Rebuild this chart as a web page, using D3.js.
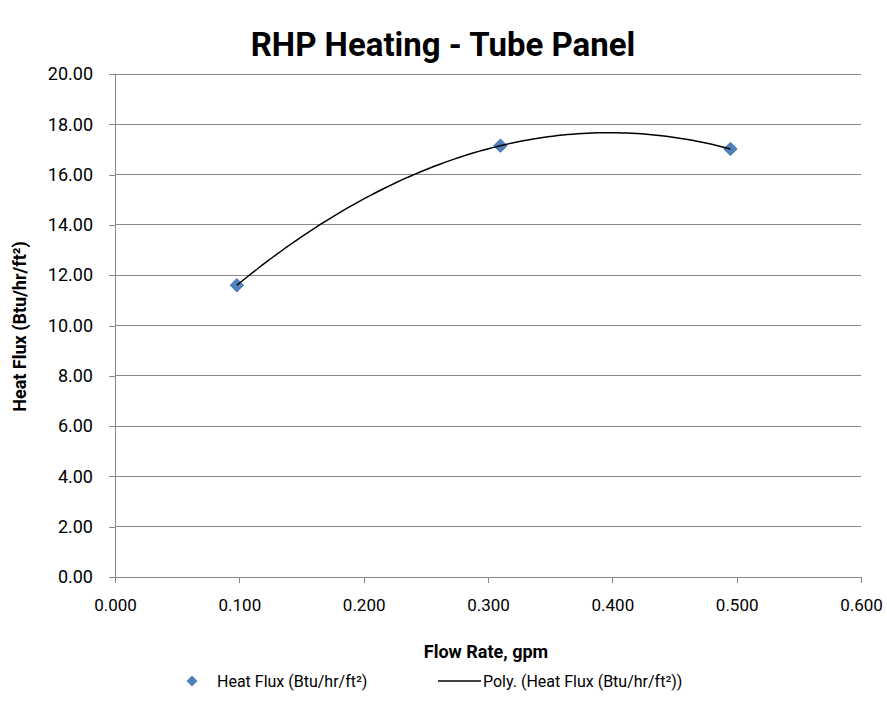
<!DOCTYPE html>
<html><head><meta charset="utf-8">
<script src="https://cdn.jsdelivr.net/npm/d3@7"></script>
<style>body{margin:0;background:#fff;} text{font-family:Roboto,"Liberation Sans",Arial,sans-serif;}</style>
</head><body>
<svg id="c" width="887" height="719"></svg>
<script>
const flowRates = [0.098, 0.310, 0.495];
const heatFlux = [11.60, 17.15, 17.02];
const xTicks = [0, 0.1, 0.2, 0.3, 0.4, 0.5, 0.6];
const yTicks = [0, 2, 4, 6, 8, 10, 12, 14, 16, 18, 20];
const title = "RHP Heating - Tube Panel";
const xTitle = "Flow Rate, gpm";
const yTitle = "Heat Flux (Btu/hr/ft²)";
const legendLabels = ["Heat Flux (Btu/hr/ft²)", "Poly. (Heat Flux (Btu/hr/ft²))"];

const svg = d3.select("#c");
const L = 115, R = 861, T = 74, B = 577;
const x = d3.scaleLinear().domain([0, 0.6]).range([L, R]);
const y = d3.scaleLinear().domain([0, 20]).range([B, T]);
const grid = "#888";
const FONT = "Roboto,'Liberation Sans',Arial,sans-serif";

svg.append("g").selectAll("line").data(yTicks.slice(1)).join("line")
  .attr("x1", L).attr("x2", R).attr("y1", d => y(d)).attr("y2", d => y(d))
  .attr("stroke", grid).attr("stroke-width", 1).attr("shape-rendering", "crispEdges");

const yAx = svg.append("g").attr("transform", `translate(${L},0)`)
  .call(d3.axisLeft(y).tickValues(yTicks).tickFormat(d3.format(".2f")).tickSize(6).tickPadding(16));
const xAx = svg.append("g").attr("transform", `translate(0,${B})`)
  .call(d3.axisBottom(x).tickValues(xTicks).tickFormat(d3.format(".3f")).tickSize(6).tickPadding(16));
[yAx, xAx].forEach(g => {
  g.selectAll("path,line").attr("stroke", grid).attr("shape-rendering", "crispEdges");
  g.selectAll("text").attr("font-size", 17).attr("fill", "#000").attr("font-family", FONT);
});
yAx.selectAll("text").attr("font-size", 18);
xAx.select(".domain").attr("d", `M${L},0H${R}`);
yAx.select(".domain").attr("d", `M0,${T}V${B}`);

function polyFit(xs, ys) {
  const n = xs.length;
  let S = [0,0,0,0,0], Sy = [0,0,0];
  for (let i = 0; i < n; i++) {
    for (let k = 0; k < 5; k++) S[k] += Math.pow(xs[i], k);
    for (let k = 0; k < 3; k++) Sy[k] += ys[i] * Math.pow(xs[i], k);
  }
  const A = [[S[0],S[1],S[2],Sy[0]],[S[1],S[2],S[3],Sy[1]],[S[2],S[3],S[4],Sy[2]]];
  for (let i = 0; i < 3; i++) {
    for (let j = i + 1; j < 3; j++) {
      const f = A[j][i] / A[i][i];
      for (let k = i; k < 4; k++) A[j][k] -= f * A[i][k];
    }
  }
  const c = [0,0,0];
  for (let i = 2; i >= 0; i--) {
    let s = A[i][3];
    for (let k = i + 1; k < 3; k++) s -= A[i][k] * c[k];
    c[i] = s / A[i][i];
  }
  return c;
}
const coef = polyFit(flowRates, heatFlux);
const xs = d3.range(0, 101).map(i => flowRates[0] + (flowRates[2] - flowRates[0]) * i / 100);
const curve = xs.map(v => [v, coef[0] + coef[1] * v + coef[2] * v * v]);

svg.append("g").selectAll("path").data(flowRates.map((v, i) => [v, heatFlux[i]])).join("path")
  .attr("d", d3.symbol().type(d3.symbolSquare).size(90))
  .attr("transform", d => `translate(${x(d[0])},${y(d[1])}) rotate(45)`)
  .attr("fill", "#4F81BD").attr("stroke", "#3A6BA5").attr("stroke-width", 0.8);

svg.append("path").datum(curve)
  .attr("d", d3.line().x(d => x(d[0])).y(d => y(d[1])))
  .attr("fill", "none").attr("stroke", "#000").attr("stroke-width", 1.5);

svg.append("text").attr("x", 443).attr("y", 56).attr("text-anchor", "middle")
  .attr("font-size", 33).attr("font-weight", "bold").text(title);
svg.append("text").attr("x", 486).attr("y", 658).attr("text-anchor", "middle")
  .attr("font-size", 18).attr("font-weight", "bold").text(xTitle);
svg.append("text").attr("transform", `translate(26,${(T + B) / 2 + 1}) rotate(-90)`).attr("text-anchor", "middle")
  .attr("font-size", 18).attr("font-weight", "bold").text(yTitle);

const lg = svg.append("g");
lg.append("path").attr("d", d3.symbol().type(d3.symbolSquare).size(60))
  .attr("transform", "translate(192,681) rotate(45)").attr("fill", "#4F81BD");
lg.append("text").attr("x", 217).attr("y", 687).attr("font-size", 16).text(legendLabels[0]);
lg.append("line").attr("x1", 438).attr("x2", 481).attr("y1", 681).attr("y2", 681)
  .attr("stroke", "#000").attr("stroke-width", 1.5);
lg.append("text").attr("x", 483).attr("y", 687).attr("font-size", 16).text(legendLabels[1]);
</script>
</body></html>
